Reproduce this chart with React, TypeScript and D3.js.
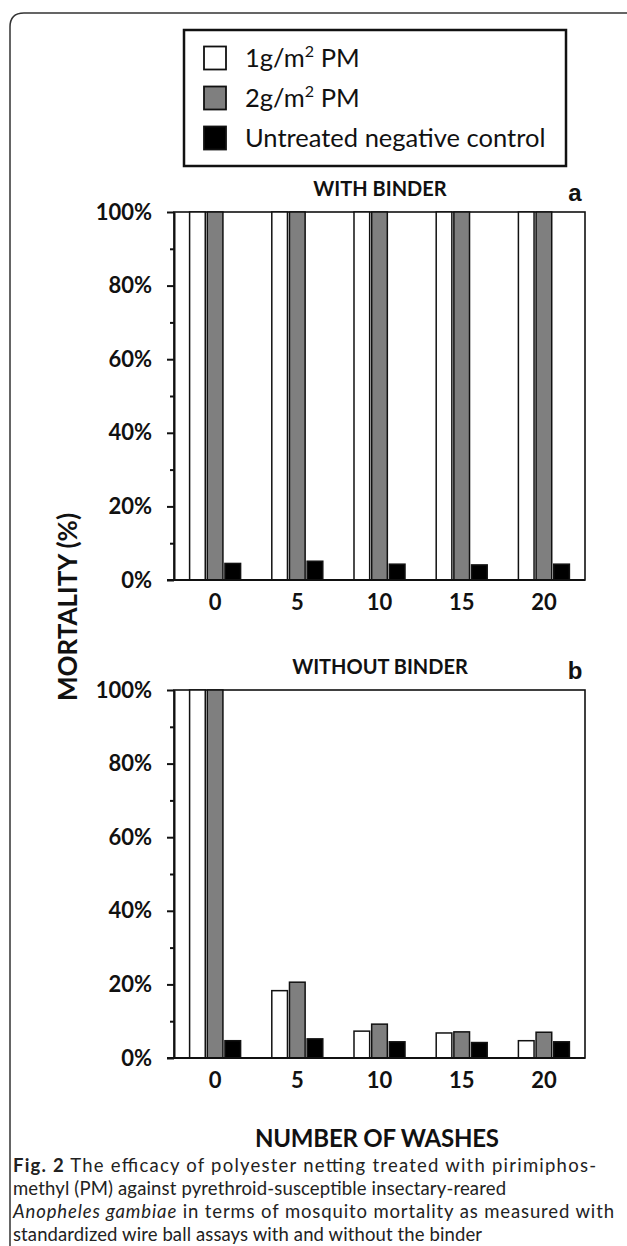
import React, { useEffect, useRef } from "react";
import * as d3 from "d3";

// categories and series
const washes = ["0", "5", "10", "15", "20"];
const seriesKeys = ["pm1", "pm2", "ctrl"];
const seriesColors = ["#ffffff", "#7f7f7f", "#000000"];

// WITH BINDER (panel a)
const withBinderPm1 = [100, 100, 100, 100, 100];
const withBinderPm2 = [100, 100, 100, 100, 100];
const withBinderCtrl = [4.5, 5.1, 4.3, 4.1, 4.3];

// WITHOUT BINDER (panel b)
const withoutBinderPm1 = [100, 18.3, 7.3, 6.8, 4.7];
const withoutBinderPm2 = [100, 20.6, 9.2, 7.1, 7.0];
const withoutBinderCtrl = [4.7, 5.2, 4.4, 4.2, 4.4];

const yTicks = [0, 20, 40, 60, 80, 100];
const yMinorTicks = [10, 30, 50, 70, 90];

const W = 627;
const H = 1246;
const FONT = "Lato, 'Open Sans', sans-serif";
const CAPTION_FONT = "Lato, 'Open Sans', sans-serif";

function drawPanel(svg, top, bottom, series, title, letter) {
  var x = d3.scaleBand().domain(washes).range([174, 585]);
  var bw = x.bandwidth();
  var x1 = d3
    .scaleBand()
    .domain(seriesKeys)
    .range([bw / 2 - 25.5, bw / 2 + 25.5])
    .paddingInner(0.114);
  var y = d3.scaleLinear().domain([0, 100]).range([bottom, top]);

  var g = svg.append("g");

  // plot frame
  g.append("rect")
    .attr("x", 174)
    .attr("y", top)
    .attr("width", 411)
    .attr("height", bottom - top)
    .attr("fill", "none")
    .attr("stroke", "#111")
    .attr("stroke-width", 1.6);

  // bars
  var groups = g
    .selectAll("g.grp")
    .data(washes)
    .join("g")
    .attr("class", "grp")
    .attr("transform", (d) => `translate(${x(d)},0)`);

  groups
    .selectAll("rect")
    .data((d, i) => seriesKeys.map((k, s) => ({ k, s, v: series[s][i] })))
    .join("rect")
    .attr("x", (d) => x1(d.k))
    .attr("y", (d) => y(d.v))
    .attr("width", x1.bandwidth())
    .attr("height", (d) => y(0) - y(d.v))
    .attr("fill", (d) => seriesColors[d.s])
    .attr("stroke", "#111")
    .attr("stroke-width", 1.5);

  // y axis major
  var yAxis = g
    .append("g")
    .attr("transform", "translate(174,0)")
    .call(
      d3
        .axisLeft(y)
        .tickValues(yTicks)
        .tickSize(7)
        .tickSizeOuter(0)
        .tickPadding(15)
        .tickFormat((d) => d + "%")
    );
  yAxis.select(".domain").attr("stroke", "#111").attr("stroke-width", 2);
  yAxis.selectAll(".tick line").attr("stroke", "#111").attr("stroke-width", 2);
  yAxis
    .selectAll(".tick text")
    .attr("fill", "#111")
    .style("font-family", FONT)
    .style("font-weight", "700")
    .style("font-size", "22px");

  // y axis minor
  var yMinor = g
    .append("g")
    .attr("transform", "translate(174,0)")
    .call(d3.axisLeft(y).tickValues(yMinorTicks).tickSize(4).tickFormat(() => ""));
  yMinor.select(".domain").remove();
  yMinor.selectAll(".tick line").attr("stroke", "#111").attr("stroke-width", 2);

  // baseline
  g.append("line")
    .attr("x1", 167)
    .attr("x2", 585)
    .attr("y1", y(0))
    .attr("y2", y(0))
    .attr("stroke", "#111")
    .attr("stroke-width", 2);

  // x labels
  g.selectAll("text.xl")
    .data(washes)
    .join("text")
    .attr("class", "xl")
    .attr("x", (d) => x(d) + bw / 2)
    .attr("y", bottom + 30)
    .attr("text-anchor", "middle")
    .style("font-family", FONT)
    .style("font-weight", "700")
    .style("font-size", "22px")
    .attr("fill", "#111")
    .text((d) => d);

  // title
  g.append("text")
    .attr("x", 380)
    .attr("y", top - 16)
    .attr("text-anchor", "middle")
    .style("font-family", FONT)
    .style("font-weight", "700")
    .style("font-size", "20px")
    .attr("fill", "#111")
    .text(title);

  // panel letter
  g.append("text")
    .attr("x", 575)
    .attr("y", top - 11)
    .attr("text-anchor", "middle")
    .style("font-family", "'Liberation Sans', Arial, sans-serif")
    .style("font-weight", "700")
    .style("font-size", "24px")
    .attr("fill", "#111")
    .text(letter);
}

export default function App() {
  const ref = useRef(null);

  useEffect(() => {
    var svg = d3.select(ref.current);
    svg.selectAll("*").remove();

    svg.append("rect").attr("width", W).attr("height", H).attr("fill", "#fff");

    // outer frame with rounded corner
    svg
      .append("path")
      .attr("d", `M10,${H} L10,27 Q10,13 24,13 L${W},13`)
      .attr("fill", "none")
      .attr("stroke", "#333")
      .attr("stroke-width", 1.5);

    // legend
    var lg = svg.append("g");
    lg.append("rect")
      .attr("x", 184)
      .attr("y", 30)
      .attr("width", 382)
      .attr("height", 136)
      .attr("fill", "#fff")
      .attr("stroke", "#111")
      .attr("stroke-width", 2.5);

    var legendY = d3.scalePoint().domain(seriesKeys).range([58, 138]);
    seriesKeys.forEach((k, i) => {
      lg.append("rect")
        .attr("x", 204)
        .attr("y", legendY(k) - 11.5)
        .attr("width", 22)
        .attr("height", 23)
        .attr("fill", seriesColors[i])
        .attr("stroke", "#111")
        .attr("stroke-width", 1.8);
      var t = lg
        .append("text")
        .attr("x", 245)
        .attr("y", legendY(k) + 9)
        .style("font-family", FONT)
        .style("font-size", "25.5px")
        .attr("fill", "#111");
      if (i < 2) {
        t.append("tspan").text(i === 0 ? "1g/m" : "2g/m");
        t.append("tspan").attr("dy", -10).style("font-size", "16px").text("2");
        t.append("tspan").attr("dy", 10).text(" PM");
      } else {
        t.text("Untreated negative control");
      }
    });

    drawPanel(
      svg,
      212,
      580,
      [withBinderPm1, withBinderPm2, withBinderCtrl],
      "WITH BINDER",
      "a"
    );
    drawPanel(
      svg,
      690,
      1058,
      [withoutBinderPm1, withoutBinderPm2, withoutBinderCtrl],
      "WITHOUT BINDER",
      "b"
    );

    // axis titles
    svg
      .append("text")
      .attr("transform", "translate(77,607) rotate(-90)")
      .attr("text-anchor", "middle")
      .style("font-family", FONT)
      .style("font-weight", "700")
      .style("font-size", "26px")
      .attr("fill", "#111")
      .text("MORTALITY (%)");

    svg
      .append("text")
      .attr("x", 377)
      .attr("y", 1147)
      .attr("text-anchor", "middle")
      .attr("textLength", 244)
      .style("font-family", FONT)
      .style("font-weight", "700")
      .style("font-size", "24px")
      .attr("fill", "#111")
      .text("NUMBER OF WASHES");

    // caption
    var cap = svg
      .append("g")
      .style("font-family", CAPTION_FONT)
      .style("font-size", "18.5px")
      .attr("fill", "#222");
    var l1 = cap.append("text").attr("x", 13).attr("y", 1172).attr("textLength", 583);
    l1.append("tspan").style("font-weight", "700").text("Fig. 2");
    l1.append("tspan").text("  The efficacy of polyester netting treated with pirimiphos-");
    cap.append("text")
      .attr("x", 13)
      .attr("y", 1195)
      .attr("textLength", 493)
      .text("methyl (PM) against pyrethroid-susceptible insectary-reared");
    var l3 = cap.append("text").attr("x", 13).attr("y", 1218).attr("textLength", 601);
    l3.append("tspan").style("font-style", "italic").text("Anopheles gambiae");
    l3.append("tspan").text(" in terms of mosquito mortality as measured with");
    cap.append("text")
      .attr("x", 13)
      .attr("y", 1241)
      .attr("textLength", 469)
      .text("standardized wire ball assays with and without the binder");
  }, []);

  return (
    <div style={{ position: "absolute", left: 0, top: 0 }}>
      <svg ref={ref} width={W} height={H} style={{ display: "block" }} />
    </div>
  );
}
